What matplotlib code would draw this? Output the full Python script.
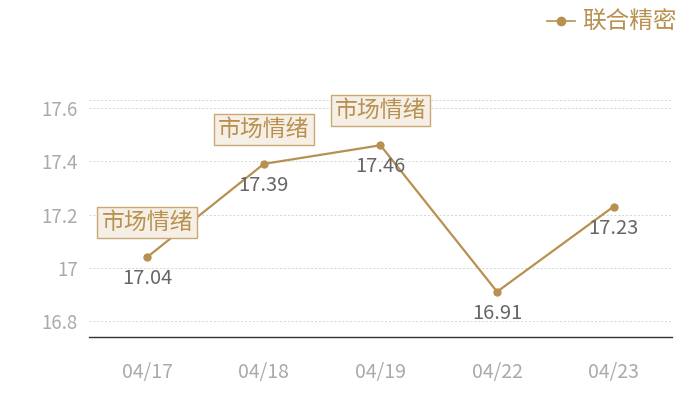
import matplotlib
matplotlib.use("Agg")
import matplotlib.pyplot as plt
from matplotlib.lines import Line2D

plt.rcParams["font.family"] = ["Noto Sans CJK SC", "DejaVu Sans"]

dates = ["04/17", "04/18", "04/19", "04/22", "04/23"]
values = [17.04, 17.39, 17.46, 16.91, 17.23]
series_name = "联合精密"
note_text = "市场情绪"
note_idx = [0, 1, 2]
yticks = [16.8, 17.0, 17.2, 17.4, 17.6]
ytick_labels = ["16.8", "17", "17.2", "17.4", "17.6"]

gold = "#b8904f"
grid_c = "#d4d4d4"
tick_c = "#aaaaaa"

fig = plt.figure(figsize=(7, 4), dpi=100, facecolor="white")
ax = fig.add_axes([0.127, 0.1575, 0.833, 0.5925])

x = list(range(len(dates)))
ax.plot(x, values, color=gold, linewidth=1.6, marker="o", markersize=6,
        markeredgewidth=0, zorder=3)

ax.set_xlim(-0.5, len(dates) - 0.5)
ax.set_ylim(16.74, 17.63)
ax.set_yticks(yticks)
ax.set_yticklabels(ytick_labels)
ax.set_xticks(x)
ax.set_xticklabels(dates)
ax.tick_params(axis="both", length=0, colors=tick_c, labelsize=13.5)
ax.tick_params(axis="x", pad=18, labelsize=14)
ax.tick_params(axis="y", pad=8)

ax.grid(axis="y", linestyle=(0, (2, 2)), linewidth=0.7, color=grid_c)
ax.axhline(17.63, linestyle=(0, (2, 2)), linewidth=0.7, color=grid_c)
for s in ["top", "right", "left"]:
    ax.spines[s].set_visible(False)
ax.spines["bottom"].set_color("#333333")
ax.spines["bottom"].set_linewidth(1.0)

for i, v in enumerate(values):
    ax.annotate(f"{v:.2f}", (i, v), xytext=(0, -8), textcoords="offset points",
                ha="center", va="top", fontsize=14.5, color="#666666")

for i in note_idx:
    ax.annotate(note_text, (i, values[i]), xytext=(0, 25), textcoords="offset points",
                ha="center", va="center", fontsize=16.5, color=gold, zorder=4,
                bbox=dict(boxstyle="square,pad=0.18", facecolor="#f5efe6",
                          edgecolor="#c9a875", linewidth=1.0))

handle = Line2D([], [], color=gold, linewidth=1.2, marker="o", markersize=7,
                markeredgewidth=0)
leg = fig.legend([handle], [series_name], loc="upper right",
                 bbox_to_anchor=(0.997, 1.025), frameon=False, fontsize=17,
                 handlelength=1.2, handletextpad=0.3)
for t in leg.get_texts():
    t.set_color(gold)

fig.savefig("out.png", dpi=100, facecolor="white")
